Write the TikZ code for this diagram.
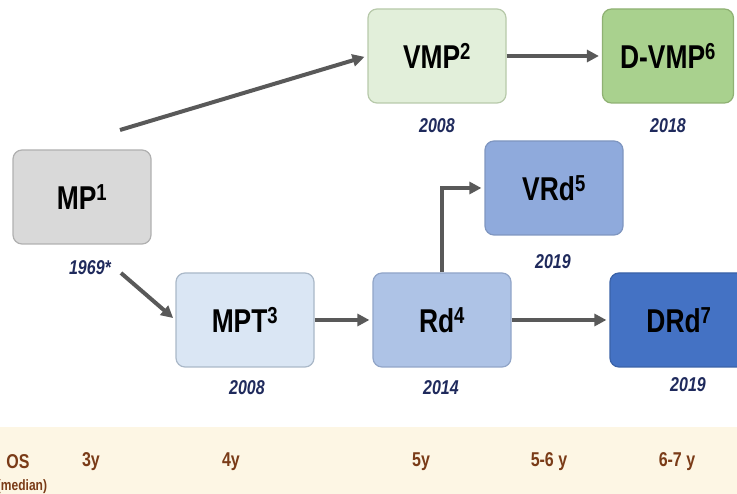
\documentclass[tikz,border=0pt]{standalone}
\usepackage{fontspec}
\setmainfont{Liberation Sans}
\newfontfamily\boxfont{Liberation Sans}[FakeStretch=0.8]
\usepackage{xcolor}
\usetikzlibrary{arrows.meta,positioning,calc}

\definecolor{mpgray}{HTML}{D9D9D9}
\definecolor{mpedge}{HTML}{B0B0B0}
\definecolor{vmpgreen}{HTML}{E2EFDA}
\definecolor{vmpedge}{HTML}{B7C9AA}
\definecolor{dvmpgreen}{HTML}{A9D18E}
\definecolor{dvmpedge}{HTML}{8FB173}
\definecolor{mptblue}{HTML}{DAE6F4}
\definecolor{mptedge}{HTML}{AAB8C8}
\definecolor{rdblue}{HTML}{AEC3E6}
\definecolor{rdedge}{HTML}{91A5C8}
\definecolor{vrdblue}{HTML}{8FAADC}
\definecolor{vrdedge}{HTML}{7F96C0}
\definecolor{drdblue}{HTML}{4472C4}
\definecolor{drdedge}{HTML}{3A62A8}
\definecolor{yearblue}{HTML}{1F2A5C}
\definecolor{bandcream}{HTML}{FDF6E4}
\definecolor{bandbrown}{HTML}{7A3B17}
\definecolor{arrowgray}{HTML}{595959}

\begin{document}
\begin{tikzpicture}[x=1pt, y=-1pt,
  >={Triangle[length=12pt,width=12pt]},
  regimen/.style={rounded corners=9pt, minimum width=138pt, minimum height=94pt,
    line width=1.2pt, inner sep=0pt,
    font=\boxfont\fontsize{33}{35}\selectfont\bfseries},
  year/.style={text=yearblue, font=\boxfont\fontsize{20}{22}\selectfont\bfseries\itshape},
  ostext/.style={text=bandbrown, font=\boxfont\fontsize{20}{22}\selectfont\bfseries},
  flow/.style={->, line width=4pt, draw=arrowgray, shorten >=3pt}]
  \useasboundingbox (0,0) rectangle (737,494);
  % survival band at the bottom
  \fill[bandcream] (0,427) rectangle (737,494);
  % regimens
  \node[regimen, fill=mpgray, draw=mpedge] (mp) at (82,197) {MP\textsuperscript{1}};
  \node[regimen, fill=vmpgreen, draw=vmpedge] (vmp) at (437,56) {VMP\textsuperscript{2}};
  \node[regimen, fill=dvmpgreen, draw=dvmpedge, minimum width=131pt] (dvmp) at (668,56) {D-VMP\textsuperscript{6}};
  \node[regimen, fill=vrdblue, draw=vrdedge] (vrd) at (554,188) {VRd\textsuperscript{5}};
  \node[regimen, fill=mptblue, draw=mptedge] (mpt) at (245,320) {MPT\textsuperscript{3}};
  \node[regimen, fill=rdblue, draw=rdedge] (rd) at (442,320) {Rd\textsuperscript{4}};
  \node[regimen, fill=drdblue, draw=drdedge] (drd) at (679,320) {DRd\textsuperscript{7}};
  % approval years
  \node[year] (mp-yr) at (90,268) {1969*};
  \node[year] (vmp-yr) at (437,126) {2008};
  \node[year] (dvmp-yr) at (668,126) {2018};
  \node[year] (vrd-yr) at (553,262) {2019};
  \node[year] (mpt-yr) at (247,388) {2008};
  \node[year] (rd-yr) at (441,388) {2014};
  \node[year] (drd-yr) at (688,385) {2019};
  % connectors
  \coordinate (mp-up) at (120,130);
  \coordinate (mp-down) at (121,273);
  \draw[flow] (mp-up) -- (vmp.west);
  \draw[flow] (mp-down) -- (mpt.west);
  \draw[flow] (mpt) -- (rd);
  \draw[flow] (rd.north) |- (vrd.west);
  \draw[flow] (rd) -- (drd);
  \draw[flow] (vmp) -- (dvmp);
  % median OS
  \node[ostext] (os) at (18,462) {OS};
  \node[ostext, font=\boxfont\fontsize{15}{17}\selectfont\bfseries] (os-med) at (22,487) {(median)};
  \node[ostext] (os-mp) at (91,462) {3y};
  \node[ostext] (os-mpt) at (231,462) {4y};
  \node[ostext] (os-rd) at (421,462) {5y};
  \node[ostext] (os-vrd) at (549,462) {5-6 y};
  \node[ostext] (os-drd) at (677,462) {6-7 y};
\end{tikzpicture}
\end{document}
